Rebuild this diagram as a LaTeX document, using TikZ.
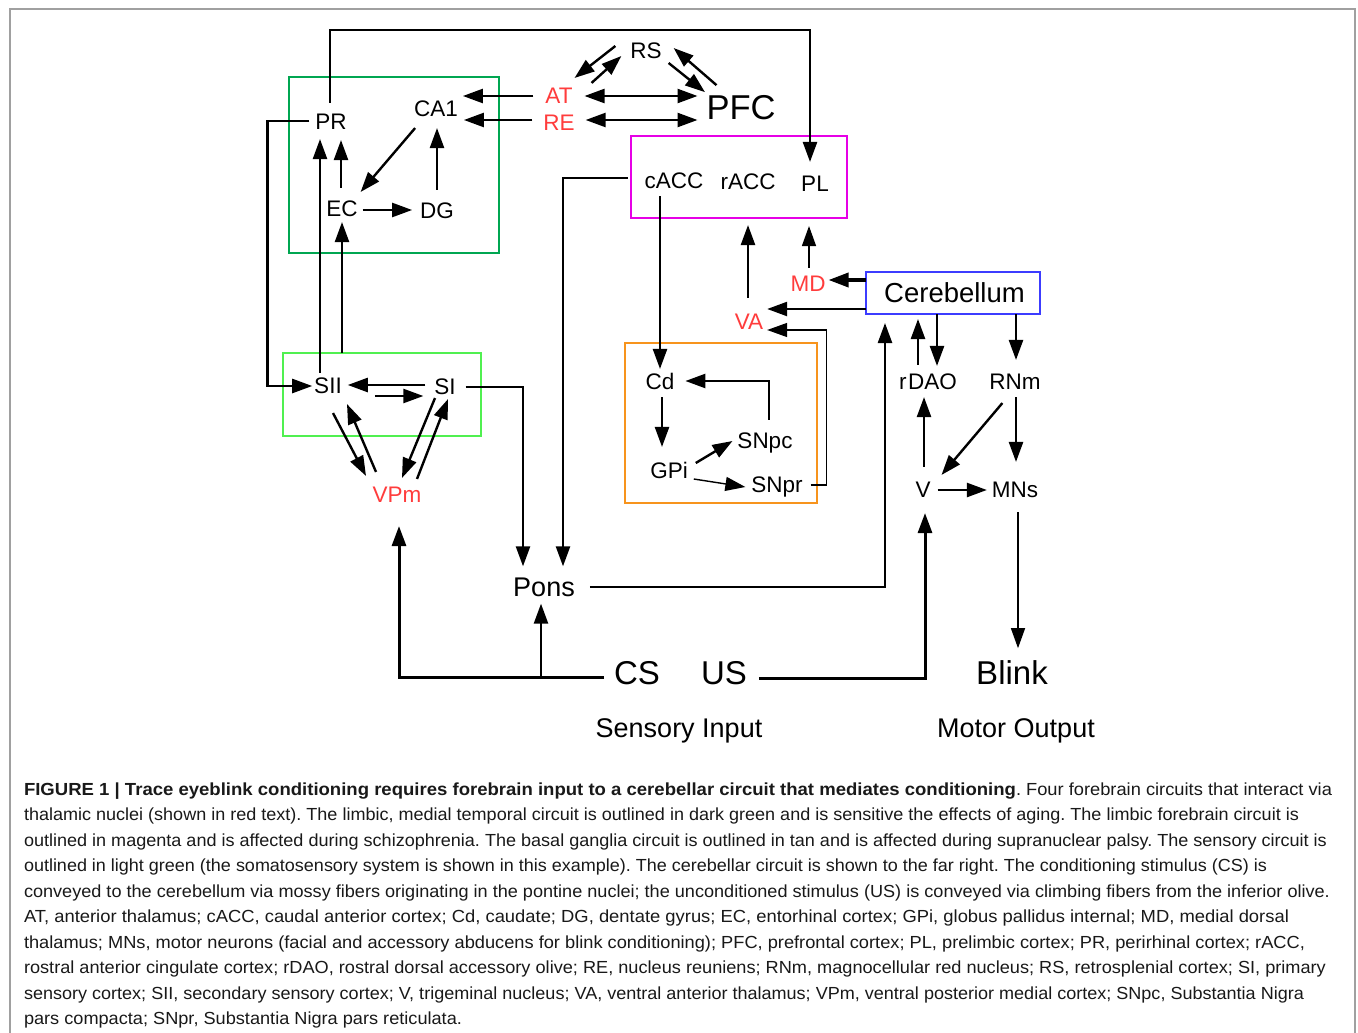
\documentclass[tikz,border=0pt]{standalone}
\usepackage{fontspec}
\usepackage{graphicx}
\setmainfont{Liberation Sans}
\newfontfamily\capfont{Liberation Sans}
\usetikzlibrary{arrows.meta,calc}
\definecolor{dkgreen}{RGB}{0,166,81}
\definecolor{ltgreen}{RGB}{80,240,80}
\definecolor{magbox}{RGB}{230,0,230}
\definecolor{orbox}{RGB}{247,148,29}
\definecolor{blbox}{RGB}{60,60,255}
\definecolor{redtxt}{RGB}{255,60,60}
\definecolor{framegray}{RGB}{160,160,160}
\newcommand\fsz[1]{\fontsize{#1}{#1}\selectfont}
\newsavebox\capbox
\newcommand\fitw[2]{\sbox\capbox{#2}\pgfmathsetmacro\fitratio{#1/\the\wd\capbox}\scalebox{\fitratio}[1]{\usebox\capbox}}
\begin{document}
\begin{tikzpicture}[x=1pt,y=-1pt,
  lbl/.style={inner sep=0pt,outer sep=0pt,font=\fsz{22.5},text height=16.1pt,text depth=0pt},
  redlbl/.style={lbl,text=redtxt},
  biglbl/.style={inner sep=0pt,outer sep=0pt,font=\fsz{33},text height=23.6pt,text depth=0pt},
  midlbl/.style={inner sep=0pt,outer sep=0pt,font=\fsz{27},text height=19.3pt,text depth=0pt},
  pfclbl/.style={inner sep=0pt,outer sep=0pt,font=\fsz{34.5},text height=24.7pt,text depth=0pt},
  captxt/.style={inner sep=0pt,outer sep=0pt,font=\capfont\fsz{17.5}\frenchspacing,text=black!90,anchor=base west},
  arr/.style={-{Triangle[length=20pt,width=14pt]},line width=2.4pt},
  darr/.style={{Triangle[length=20pt,width=14pt]}-{Triangle[length=20pt,width=14pt]},line width=2.4pt},
  thinln/.style={line width=1.4pt},
  thickln/.style={line width=3pt},
  boxln/.style={line width=2pt}]
\useasboundingbox (0,0) rectangle (1358,1033);
\fill[white] (0,0) rectangle (1358,1033);
\draw[framegray,line width=2pt] (9.5,1033) -- (9.5,9) -- (1354.5,9) -- (1354.5,1033);

% circuit outlines
\draw[dkgreen,boxln] (289,77) rectangle (499,253);
\draw[magbox,boxln] (631,136) rectangle (847,218);
\draw[orbox,line width=2.6pt] (625,343) rectangle (817,503);
\draw[ltgreen,boxln] (283,353) rectangle (481,436);

% nodes
\node[lbl] (PR) at (331,121) {PR};
\node[lbl] (CA1) at (436,108) {CA1};
\node[lbl] (EC) at (342,208) {EC};
\node[lbl] (DG) at (437,210) {DG};
\node[redlbl] (AT) at (559,95) {AT};
\node[redlbl] (RE) at (559,122) {RE};
\node[lbl] (RS) at (646,50) {RS};
\node[pfclbl] (PFC) at (741,107.5) {PFC};
\node[lbl] (cACC) at (674,180) {cACC};
\node[lbl] (rACC) at (748,181) {rACC};
\node[lbl] (PL) at (815,183) {PL};
\node[redlbl] (MD) at (808,283) {MD};
\node[redlbl] (VA) at (749,321) {VA};
\node[draw=blbox,line width=2pt,inner sep=0pt,outer sep=0pt,minimum width=174pt,minimum height=42pt,font=\fsz{27.5},text height=19.7pt,text depth=0pt] (Cer) at (953,293) {\hspace{3pt}Cerebellum};
\node[lbl] (Cd) at (660,381) {Cd};
\node[lbl] (SNpc) at (765,440) {SNpc};
\node[lbl] (GPi) at (669,470) {GPi};
\node[lbl] (SNpr) at (777,484) {SNpr};
\node[lbl] (SII) at (328,385) {SII};
\node[lbl] (SI) at (445,386) {SI};
\node[redlbl] (VPm) at (397,494) {VPm};
\node[midlbl] (Pons) at (544,587) {Pons};
\node[biglbl] (CS) at (637,673) {CS};
\node[biglbl] (US) at (724,673) {US};
\node[biglbl] (Blink) at (1012,673) {Blink};
\node[midlbl] (SensIn) at (679,728) {Sensory Input};
\node[midlbl] (MotOut) at (1016,728) {Motor Output};
\node[lbl] (rDAO) at (928,381) {r\kern1.5pt DAO};
\node[lbl] (RNm) at (1015,381) {RNm};
\node[lbl] (V) at (923,489) {V};
\node[lbl] (MNs) at (1015,489) {MNs};

\coordinate (topY) at (0,30);

% medial temporal / limbic
\draw[arr] ($(PR.north)+(-1,-10)$) coordinate (prTop) -- (prTop |- topY) -| ($(PL.north)+(-5,-13)$);
\draw[arr] ($(PR.west)+(-6,0)$) -- ++(-42,0) |- ($(SII.west)+(-2,1)$);
\draw[arr] ($(SII.north)+(-8,-4)$) -- ($(PR.south)+(-11,10)$);
\draw[arr] ($(SII.north)+(14,-24)$) -- ($(EC.south)+(0,6)$);
\draw[arr] ($(EC.north)+(-1,-12)$) -- ($(PR.south)+(10,11)$);
\draw[arr] ($(EC.east)+(5,2)$) -- ($(DG.west)+(-8,0)$);
\draw[arr] ($(DG.north)+(0,-12)$) -- ($(CA1.south)+(1,12)$);
\draw[arr] ($(CA1.south west)+(1,12)$) -- ($(EC.north east)+(3,-8)$);
\draw[arr] ($(AT.west)+(-12,1)$) -- ($(CA1.east)+(5,-12)$);
\draw[arr] ($(RE.west)+(-11,-2)$) -- ($(CA1.east)+(6,12)$);
\draw[darr] ($(AT.east)+(12,1)$) -- ($(PFC.west)+(-9,-11.5)$);
\draw[darr] ($(RE.east)+(11,-2)$) -- ($(PFC.west)+(-9,12.5)$);
\draw[arr] ($(RS.west)+(-15,-4)$) -- ($(AT.north east)+(2,-9)$);
\draw[arr] ($(AT.north east)+(19,-4)$) -- ($(RS.west)+(-9,6)$);
\draw[arr] ($(RS.east)+(7,13)$) -- ($(PFC.north west)+(-1.5,-3)$);
\draw[arr] ($(PFC.north west)+(10,-10)$) -- ($(RS.east)+(12,-2)$);

% limbic forebrain / basal ganglia
\draw[arr] ($(cACC.west)+(-17,-2)$) -| ($(Pons.north)+(19,-11)$);
\draw[arr] ($(cACC.south)+(-14,8)$) -- ($(Cd.north)+(0,-4)$);
\draw[arr] ($(VA.north)+(-1,-15)$) -- ($(rACC.south)+(0,36)$);
\draw[arr,thinln] ($(MD.north)+(1,-7)$) -- ($(PL.south)+(-6,35)$);
\draw[arr,line width=3.5pt] ($(Cer.west)+(0,-13)$) -- ($(MD.east)+(3,-3)$);
\draw[arr] ($(Cer.west)+(0,16)$) -- ($(VA.east)+(4,-12)$);
\draw[arr,thinln] ($(SNpr.east)+(8,1)$) -- ++(16,0) |- ($(VA.east)+(4,9)$);
\draw[arr] ($(Cd.south)+(2,8)$) -- ($(GPi.north)+(-7,-15)$);
\draw[arr] ($(SNpc.north)+(4,-12)$) |- ($(Cd.east)+(11,0)$);
\draw[arr] ($(GPi.east)+(8,-7)$) -- ($(SNpc.west)+(-5,1)$);
\draw[arr,thinln] ($(GPi.east)+(6,9)$) -- ($(SNpr.west)+(-6,3)$);

% sensory
\draw[arr] ($(SI.west)+(-9,-1)$) -- ($(SII.east)+(6,0)$);
\draw[arr] ($(SII.east)+(33,11)$) -- ($(SI.west)+(-11,10)$);
\draw[arr] ($(SI.east)+(10,1)$) -| ($(Pons.north)+(-21,-11)$);
\draw[arr] ($(SII.south)+(5,20)$) -- ($(VPm.north)+(-31,-10)$);
\draw[arr] ($(VPm.north)+(-21,-14)$) -- ($(SII.south)+(19,11)$);
\draw[arr] ($(SI.south)+(-10,4)$) -- ($(VPm.north)+(5,-8)$);
\draw[arr] ($(VPm.north)+(20,-7)$) -- ($(SI.south)+(3,5)$);

% inputs
\coordinate (csL) at ($(CS.west)+(-10,4)$);
\draw[arr,thickln] (csL) -| ($(VPm.south)+(2,24)$);
\draw[arr] ($(csL -| Pons.south)+(-3,0)$) -- ($(Pons.south)+(-3,7)$);
\draw[arr] ($(Pons.east)+(15,0)$) -| ($(Cer.south)+(-68,9)$);
\draw[arr,thickln] ($(US.east)+(12,5)$) -| ($(V.south)+(2,16)$);

% cerebellar circuit
\draw[arr,thinln] ($(MNs.south)+(3,15)$) -- ($(Blink.north)+(6,-13)$);
\draw[arr] ($(Cer.south)+(-16,0)$) -- ($(rDAO.north)+(9,-7)$);
\draw[arr] ($(rDAO.north)+(-10,-8)$) -- ($(Cer.south)+(-35,5)$);
\draw[arr] ($(V.north)+(1,-14)$) -- ($(rDAO.south)+(-4,8)$);
\draw[arr] ($(Cer.south)+(63,0)$) -- ($(RNm.north)+(1,-13)$);
\draw[arr] ($(RNm.south west)+(13,14)$) -- ($(V.north east)+(11,-6)$);
\draw[arr] ($(RNm.south)+(1,8)$) -- ($(MNs.north)+(1,-19)$);
\draw[arr] ($(V.east)+(7,1)$) -- ($(MNs.west)+(-5,1)$);

% caption
\node[captxt] (c1) at (24,795) {\fitw{992}{\textbf{FIGURE 1 | Trace eyeblink conditioning requires forebrain input to a cerebellar circuit that mediates conditioning}}\fitw{316}{. Four forebrain circuits that interact via}};
\node[captxt] (c2) at (24,820.5) {\fitw{1275}{thalamic nuclei (shown in red text). The limbic, medial temporal circuit is outlined in dark green and is sensitive the effects of aging. The limbic forebrain circuit is}};
\node[captxt] (c3) at (24,846) {\fitw{1303}{outlined in magenta and is affected during schizophrenia. The basal ganglia circuit is outlined in tan and is affected during supranuclear palsy. The sensory circuit is}};
\node[captxt] (c4) at (24,871.5) {\fitw{1243}{outlined in light green (the somatosensory system is shown in this example). The cerebellar circuit is shown to the far right. The conditioning stimulus (CS) is}};
\node[captxt] (c5) at (24,897) {\fitw{1306}{conveyed to the cerebellum via mossy fibers originating in the pontine nuclei; the unconditioned stimulus (US) is conveyed via climbing fibers from the inferior olive.}};
\node[captxt] (c6) at (24,922.5) {\fitw{1265}{AT, anterior thalamus; cACC, caudal anterior cortex; Cd, caudate; DG, dentate gyrus; EC, entorhinal cortex; GPi, globus pallidus internal; MD, medial dorsal}};
\node[captxt] (c7) at (24,948) {\fitw{1281}{thalamus; MNs, motor neurons (facial and accessory abducens for blink conditioning); PFC, prefrontal cortex; PL, prelimbic cortex; PR, perirhinal cortex; rACC,}};
\node[captxt] (c8) at (24,973.5) {\fitw{1302}{rostral anterior cingulate cortex; rDAO, rostral dorsal accessory olive; RE, nucleus reuniens; RNm, magnocellular red nucleus; RS, retrosplenial cortex; SI, primary}};
\node[captxt] (c9) at (24,999) {\fitw{1280}{sensory cortex; SII, secondary sensory cortex; V, trigeminal nucleus; VA, ventral anterior thalamus; VPm, ventral posterior medial cortex; SNpc, Substantia Nigra}};
\node[captxt] (c10) at (24,1024.5) {\fitw{438}{pars compacta; SNpr, Substantia Nigra pars reticulata.}};
\end{tikzpicture}
\end{document}
